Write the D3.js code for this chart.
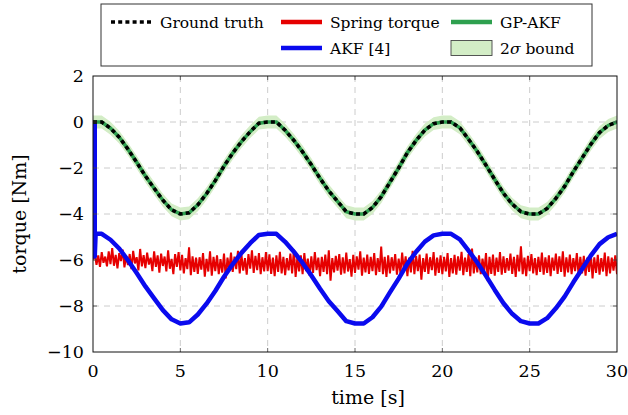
<!DOCTYPE html>
<html>
<head>
<meta charset="utf-8">
<script src="https://cdn.jsdelivr.net/npm/d3@7"></script>
<style>
  body { margin: 0; background: #fff; }
</style>
</head>
<body>
<svg id="chart" width="628" height="415"></svg>
<script>
// samples every 0.5 s from 0 to 30 s
const sampleStep = 0.5;
const groundTruth = [
  0, 0, -0.27, -0.66, -1.18, -1.75, -2.35, -2.88, -3.4, -3.82,
  -4, -3.95, -3.6, -3.12, -2.55, -1.92, -1.35, -0.85, -0.42, -0.05,
  0, 0, -0.36, -0.8, -1.3, -1.86, -2.45, -3.0, -3.45, -3.9,
  -4, -4, -3.72, -3.25, -2.62, -2.0, -1.33, -0.8, -0.35, -0.07,
  0, 0, -0.25, -0.75, -1.28, -1.88, -2.5, -3.1, -3.57, -3.9,
  -4, -4, -3.76, -3.32, -2.8, -2.16, -1.57, -0.97, -0.46, -0.15,
  0
];
const gpAkf = [
  0, 0, -0.27, -0.66, -1.18, -1.75, -2.35, -2.88, -3.4, -3.82,
  -4, -3.95, -3.6, -3.12, -2.55, -1.92, -1.35, -0.85, -0.42, -0.05,
  0, 0, -0.36, -0.8, -1.3, -1.86, -2.45, -3.0, -3.45, -3.9,
  -4, -4, -3.72, -3.25, -2.62, -2.0, -1.33, -0.8, -0.35, -0.07,
  0, 0, -0.25, -0.75, -1.28, -1.88, -2.5, -3.1, -3.57, -3.9,
  -4, -4, -3.76, -3.32, -2.8, -2.16, -1.57, -0.97, -0.46, -0.15,
  0
];
const gpBound2Sigma = 0.28;
const akf = [
  -4.86, -4.86, -5.12, -5.50, -6.01, -6.57, -7.15, -7.67, -8.18, -8.58,
  -8.76, -8.71, -8.37, -7.90, -7.35, -6.73, -6.18, -5.69, -5.27, -4.91,
  -4.86, -4.86, -5.21, -5.64, -6.13, -6.67, -7.25, -7.79, -8.22, -8.66,
  -8.76, -8.76, -8.49, -8.03, -7.41, -6.81, -6.16, -5.64, -5.20, -4.93,
  -4.86, -4.86, -5.10, -5.59, -6.11, -6.69, -7.30, -7.88, -8.34, -8.66,
  -8.76, -8.76, -8.53, -8.10, -7.59, -6.97, -6.39, -5.81, -5.31, -5.01,
  -4.86
];
// AKF start-up transient
const akfStartTime = [0.1, 0.1, 0.15];
const akfStartValue = [0, -5.85, -4.86];

// spring torque measured every 0.1 s
const springStep = 0.1;
const springTorque = [
  -5.98, -5.72, -6.21, -5.80, -6.30, -5.66, -6.12, -5.85, -6.28, -5.62,
  -6.18, -5.48, -6.25, -5.78, -6.36, -5.70, -6.05, -5.55, -6.32, -5.82,
  -6.22, -5.74, -6.40, -5.60, -6.15, -5.88, -6.45, -5.52, -6.28, -5.79,
  -6.35, -5.68, -6.20, -5.90, -6.48, -5.62, -6.30, -5.80, -6.55, -5.72,
  -6.26, -5.85, -6.50, -5.58, -6.38, -5.95, -6.62, -5.74, -6.30, -5.66,
  -6.45, -5.78, -6.58, -5.92, -6.40, -5.45, -6.66, -5.84, -6.52, -5.90,
  -6.60, -5.88, -6.42, -5.70, -6.72, -5.95, -6.50, -5.62, -6.68, -5.86,
  -6.48, -5.80, -6.62, -5.96, -6.55, -5.72, -6.80, -5.90, -6.45, -5.68,
  -6.52, -5.85, -6.40, -5.60, -6.58, -5.78, -6.46, -5.92, -6.64, -5.74,
  -6.38, -5.58, -6.56, -5.82, -6.44, -5.70, -6.62, -5.88, -6.50, -5.66,
  -6.48, -5.75, -6.60, -5.90, -6.70, -5.80, -6.52, -5.64, -6.58, -5.86,
  -6.66, -5.92, -6.45, -5.72, -6.58, -5.55, -6.74, -5.88, -6.50, -5.80,
  -6.62, -5.70, -6.48, -5.94, -6.68, -5.84, -6.56, -5.66, -6.44, -5.90,
  -6.70, -5.86, -6.52, -5.76, -6.62, -5.58, -6.90, -5.92, -6.54, -5.82,
  -6.46, -5.74, -6.64, -5.88, -6.58, -5.68, -6.50, -5.96, -6.72, -5.78,
  -6.56, -5.84, -6.42, -5.62, -6.68, -5.90, -6.54, -5.76, -6.60, -5.86,
  -6.48, -5.70, -6.66, -5.92, -6.52, -5.42, -6.62, -5.86, -6.74, -5.80,
  -6.58, -5.88, -6.46, -5.74, -6.64, -5.94, -6.56, -5.68, -6.50, -5.84,
  -6.70, -5.90, -6.54, -5.60, -6.62, -5.82, -6.48, -5.76, -6.86, -5.92,
  -6.52, -5.72, -6.60, -5.88, -6.44, -5.66, -6.68, -5.90, -6.56, -5.80,
  -6.62, -5.86, -6.50, -5.70, -6.74, -5.92, -6.58, -5.78, -6.64, -5.84,
  -6.46, -5.64, -6.66, -5.90, -6.52, -5.74, -6.70, -5.50, -6.58, -5.88,
  -6.54, -5.80, -6.62, -5.94, -6.48, -5.70, -6.92, -5.86, -6.60, -5.76,
  -6.68, -5.90, -6.52, -5.66, -6.64, -5.84, -6.56, -5.92, -6.46, -5.72,
  -6.60, -5.86, -6.74, -5.78, -6.50, -5.40, -6.62, -5.90, -6.70, -5.82,
  -6.48, -5.74, -6.58, -5.92, -6.66, -5.86, -6.52, -5.68, -6.64, -5.88,
  -6.56, -5.80, -6.70, -5.90, -6.46, -5.72, -6.60, -5.84, -6.52, -5.62,
  -6.72, -5.88, -6.54, -5.76, -6.62, -5.92, -6.48, -5.70, -6.66, -5.86,
  -6.58, -5.82, -6.68, -5.90, -6.52, -5.74, -6.80, -5.88, -6.56, -5.78,
  -6.64, -5.92, -6.50, -5.68, -6.70, -5.84, -6.58, -5.90, -6.46, -5.80,
  -6.62
];

const xTicks = [0, 5, 10, 15, 20, 25, 30];
const yTicks = [-10, -8, -6, -4, -2, 0, 2];
const legendItems = ['Ground truth', 'Spring torque', 'GP-AKF', null, 'AKF [4]', '2σ bound'];

const colours = {
  truth: '#000000',
  spring: '#e60000',
  gp: '#2ea04f',
  akf: '#0a0aee',
  band: '#d3edc6'
};
const serif = 'DejaVu Serif';

// Layout
const svg = d3.select('#chart');
const plot = { left: 93, top: 76, width: 524, height: 276 };

const x = d3.scaleLinear().domain([0, 30]).range([plot.left, plot.left + plot.width]);
const y = d3.scaleLinear().domain([-10, 2]).range([plot.top + plot.height, plot.top]);

svg.append('rect').attr('width', 628).attr('height', 415).attr('fill', '#fff');

// Grid
const grid = svg.append('g').attr('class', 'grid');
grid.selectAll('.vgrid').data(xTicks.slice(1, -1)).join('line')
  .attr('x1', d => x(d)).attr('x2', d => x(d))
  .attr('y1', plot.top).attr('y2', plot.top + plot.height);
grid.selectAll('.hgrid').data(yTicks.slice(1, -1)).join('line')
  .attr('class', 'hgrid')
  .attr('x1', plot.left).attr('x2', plot.left + plot.width)
  .attr('y1', d => y(d)).attr('y2', d => y(d));
grid.selectAll('line')
  .attr('stroke', '#c6c6c6').attr('stroke-width', 0.9).attr('stroke-dasharray', '6,5');

// Data series
const samples = groundTruth.map((v, i) => ({ t: i * sampleStep, truth: v, gp: gpAkf[i], akf: akf[i] }));
const springData = springTorque.map((v, i) => ({ t: i * springStep, v }));
const akfData = akfStartTime.map((t, i) => ({ t, v: akfStartValue[i] }))
  .concat(samples.filter(d => d.t > akfStartTime[akfStartTime.length - 1]).map(d => ({ t: d.t, v: d.akf })));

svg.append('clipPath').attr('id', 'clip').append('rect')
  .attr('x', plot.left).attr('y', plot.top).attr('width', plot.width).attr('height', plot.height);

const marks = svg.append('g').attr('clip-path', 'url(#clip)');

marks.append('path').datum(samples)
  .attr('fill', colours.band)
  .attr('d', d3.area().x(d => x(d.t)).y0(d => y(d.gp - gpBound2Sigma)).y1(d => y(d.gp + gpBound2Sigma)));

marks.append('path').datum(springData)
  .attr('fill', 'none').attr('stroke', colours.spring).attr('stroke-width', 2)
  .attr('stroke-linejoin', 'miter').attr('stroke-miterlimit', 2)
  .attr('d', d3.line().x(d => x(d.t)).y(d => y(d.v)));

marks.append('path').datum(akfData)
  .attr('fill', 'none').attr('stroke', colours.akf).attr('stroke-width', 4.5)
  .attr('stroke-linejoin', 'round')
  .attr('d', d3.line().x(d => x(d.t)).y(d => y(d.v)));

marks.append('path').datum(samples)
  .attr('fill', 'none').attr('stroke', colours.gp).attr('stroke-width', 3.6)
  .attr('d', d3.line().x(d => x(d.t)).y(d => y(d.gp)));

marks.append('path').datum(samples)
  .attr('fill', 'none').attr('stroke', colours.truth).attr('stroke-width', 3.6)
  .attr('stroke-dasharray', '4,3.2')
  .attr('d', d3.line().x(d => x(d.t)).y(d => y(d.truth)));

// Axis frame and inward ticks
const frame = svg.append('g');
frame.selectAll('.xt').data(xTicks.slice(1, -1)).join('g')
  .call(g => {
    g.append('line').attr('x1', d => x(d)).attr('x2', d => x(d)).attr('y1', plot.top + plot.height).attr('y2', plot.top + plot.height - 4);
    g.append('line').attr('x1', d => x(d)).attr('x2', d => x(d)).attr('y1', plot.top).attr('y2', plot.top + 4);
  });
frame.selectAll('.yt').data(yTicks.slice(1, -1)).join('g')
  .call(g => {
    g.append('line').attr('x1', plot.left).attr('x2', plot.left + 4).attr('y1', d => y(d)).attr('y2', d => y(d));
    g.append('line').attr('x1', plot.left + plot.width).attr('x2', plot.left + plot.width - 4).attr('y1', d => y(d)).attr('y2', d => y(d));
  });
frame.selectAll('line').attr('stroke', '#444').attr('stroke-width', 0.8);
frame.append('rect')
  .attr('x', plot.left).attr('y', plot.top).attr('width', plot.width).attr('height', plot.height)
  .attr('fill', 'none').attr('stroke', '#111').attr('stroke-width', 1);

// Tick labels
const tickText = d => (d < 0 ? '\u2212' : '') + Math.abs(d);
svg.append('g').selectAll('text').data(xTicks).join('text')
  .attr('x', d => x(d)).attr('y', plot.top + plot.height + 25)
  .attr('text-anchor', 'middle').attr('font-family', serif).attr('font-size', 17.5)
  .text(tickText);
svg.append('g').selectAll('text').data(yTicks).join('text')
  .attr('x', plot.left - 9).attr('y', d => y(d)).attr('dy', '0.36em')
  .attr('text-anchor', 'end').attr('font-family', serif).attr('font-size', 17.5)
  .text(tickText);

// Axis labels
svg.append('text')
  .attr('x', 368).attr('y', 404)
  .attr('text-anchor', 'middle').attr('font-family', serif).attr('font-size', 19)
  .text('time [s]');
svg.append('text')
  .attr('transform', `translate(26,${plot.top + plot.height / 2}) rotate(-90)`)
  .attr('text-anchor', 'middle').attr('font-family', serif).attr('font-size', 19)
  .text('torque [Nm]');

// Legend
const legend = svg.append('g');
legend.append('rect')
  .attr('x', 101).attr('y', 4).attr('width', 491).attr('height', 62)
  .attr('fill', '#fff').attr('stroke', '#333').attr('stroke-width', 1);

const colX = [111, 281, 451];
const rowY = [22, 48];
legendItems.forEach((name, i) => {
  if (!name) return;
  const cx = colX[i % 3], cy = rowY[Math.floor(i / 3)];
  const item = legend.append('g');
  if (name === 'Ground truth') {
    item.append('line').attr('x1', cx).attr('x2', cx + 41).attr('y1', cy).attr('y2', cy)
      .attr('stroke', colours.truth).attr('stroke-width', 3.6).attr('stroke-dasharray', '4,3.2');
  } else if (name === '2σ bound') {
    item.append('rect').attr('x', cx).attr('y', cy - 7.5).attr('width', 41).attr('height', 15)
      .attr('fill', colours.band).attr('stroke', '#444').attr('stroke-width', 0.9);
  } else {
    const c = { 'Spring torque': colours.spring, 'GP-AKF': colours.gp, 'AKF [4]': colours.akf }[name];
    item.append('line').attr('x1', cx).attr('x2', cx + 41).attr('y1', cy).attr('y2', cy)
      .attr('stroke', c).attr('stroke-width', 4.5);
  }
  const label = item.append('text')
    .attr('x', cx + 49).attr('y', cy + 5.5)
    .attr('font-family', serif).attr('font-size', 15.5);
  if (name === '2σ bound') {
    label.append('tspan').text('2');
    label.append('tspan').attr('font-style', 'italic').text('σ');
    label.append('tspan').text(' bound');
  } else {
    label.text(name);
  }
});
</script>
</body>
</html>
